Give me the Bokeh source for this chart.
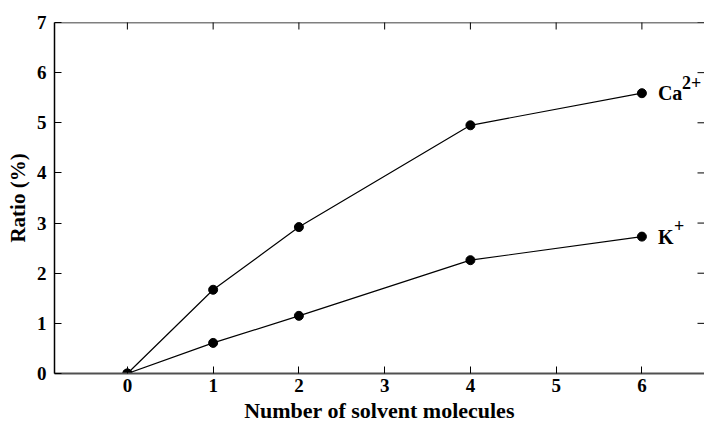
import math
from bokeh.plotting import figure
from bokeh.models import Range1d, FixedTicker, Label, Span
from bokeh.embed import file_html
from bokeh.resources import INLINE

# Solvent molecule counts and ion ratios (%)
solvent_counts = [0, 1, 2, 4, 6]
ca_ratio = [0.0, 1.67, 2.92, 4.95, 5.59]
k_ratio = [0.0, 0.61, 1.15, 2.26, 2.73]

x_ticks = [0, 1, 2, 3, 4, 5, 6]
y_ticks = [0, 1, 2, 3, 4, 5, 6, 7]

FONT = "Liberation Serif"
X_MIN, X_MAX = -0.85, 6.73
Y_MIN, Y_MAX = 0, 7

p = figure(
    width=704, height=425,
    x_range=Range1d(X_MIN, X_MAX), y_range=Range1d(Y_MIN, Y_MAX),
    output_backend="svg", toolbar_location=None,
    min_border_left=54, min_border_right=0, min_border_top=22, min_border_bottom=52,
    x_axis_label="Number of solvent molecules", y_axis_label="Ratio (%)",
)
p.outline_line_color = None
p.xgrid.visible = False
p.ygrid.visible = False
p.background_fill_color = "white"
p.border_fill_color = "white"

for ax in (p.xaxis[0], p.yaxis[0]):
    ax.major_tick_in = 7
    ax.major_tick_out = 0
    ax.minor_tick_line_color = None
    ax.major_label_text_font = FONT
    ax.major_label_text_font_style = "bold"
    ax.major_label_text_font_size = "19px"
    ax.major_label_text_color = "black"
    ax.axis_label_text_font = FONT
    ax.axis_label_text_font_style = "bold"
    ax.axis_label_text_font_size = "21px"
    ax.axis_label_text_color = "black"

p.xaxis[0].ticker = FixedTicker(ticks=x_ticks)
p.yaxis[0].ticker = FixedTicker(ticks=y_ticks)
p.xaxis[0].axis_line_color = "#505050"
p.xaxis[0].axis_line_width = 2
p.xaxis[0].major_label_standoff = 5
p.xaxis[0].axis_label_standoff = 3
p.xaxis[0].axis_label_text_font_size = "22px"
p.yaxis[0].axis_line_color = "black"
p.yaxis[0].axis_line_width = 1.5
p.yaxis[0].major_label_standoff = 8
p.yaxis[0].axis_label_standoff = 4

# Top border line and inward mirror ticks on the top and right edges
p.add_layout(Span(location=Y_MAX, dimension="width", line_color="black", line_width=1.5))
p.scatter(x_ticks, [Y_MAX] * len(x_ticks), marker="dash", angle=math.pi / 2,
          size=14, line_color="black", line_width=1)
p.scatter([X_MAX] * len(y_ticks), y_ticks, marker="dash",
          size=14, line_color="black", line_width=1)

for series in (ca_ratio, k_ratio):
    p.line(solvent_counts, series, line_color="black", line_width=1.2)
    p.scatter(solvent_counts, series, size=9, fill_color="black", line_color="black")

# Series labels with superscript charges
labels = [
    (ca_ratio[-1], "Ca", "2+", 24),
    (k_ratio[-1], "K", "+", 16),
]
for yv, base, sup, dx in labels:
    p.add_layout(Label(x=solvent_counts[-1], y=yv, text=base, x_offset=16, y_offset=0,
                       text_font=FONT, text_font_style="bold", text_font_size="20px",
                       text_baseline="middle", text_color="black"))
    p.add_layout(Label(x=solvent_counts[-1], y=yv, text=sup, x_offset=16 + dx, y_offset=11,
                       text_font=FONT, text_font_style="bold", text_font_size="18px",
                       text_baseline="middle", text_color="black"))

open("out.html", "w").write(file_html(p, INLINE))
